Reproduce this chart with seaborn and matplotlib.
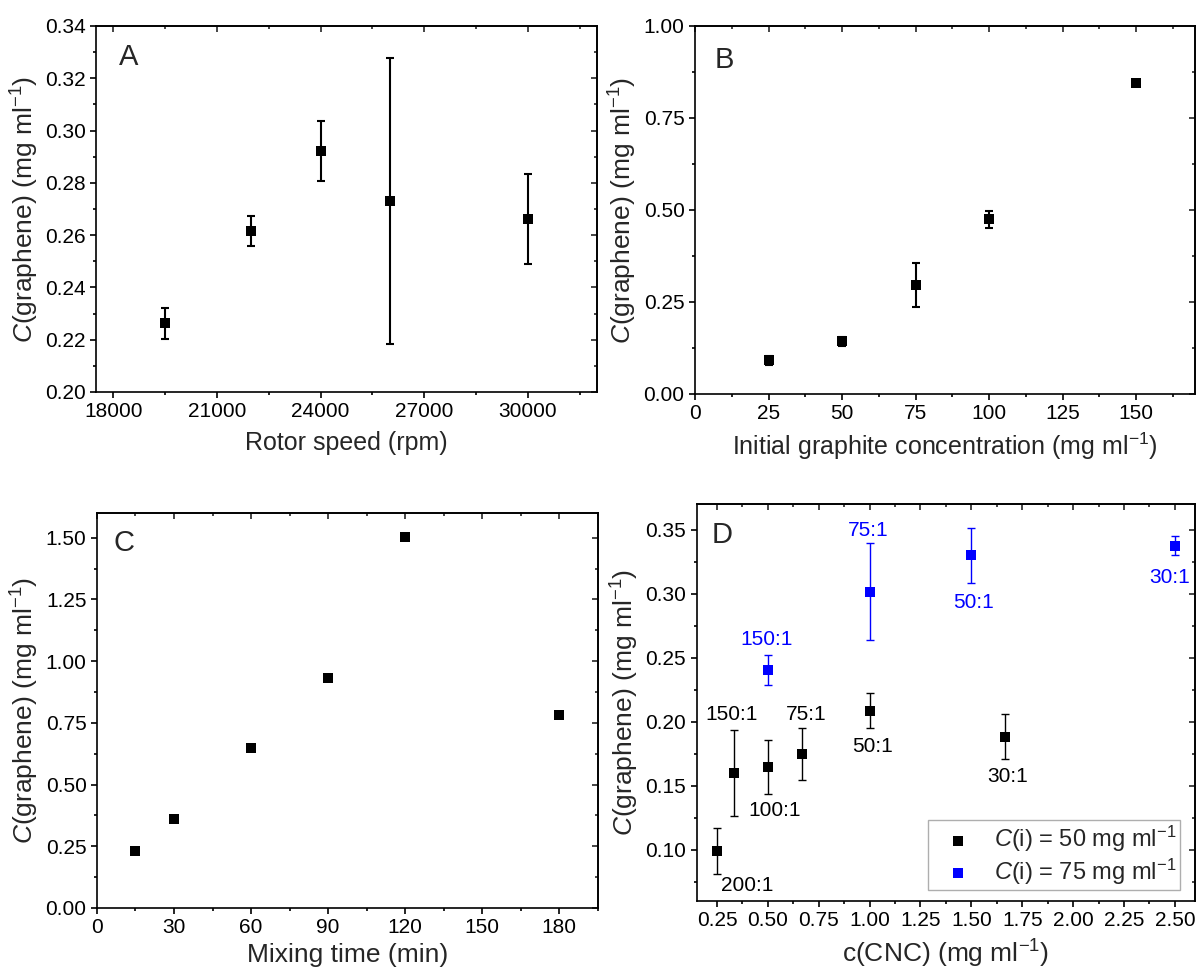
import matplotlib
matplotlib.use("Agg")
import matplotlib.pyplot as plt
from matplotlib.ticker import MultipleLocator, FormatStrFormatter
import seaborn as sns
import pandas as pd

# values
rotor_speed = [19500, 22000, 24000, 26000, 30000]
conc_rotor = [0.2263, 0.2616, 0.2921, 0.2731, 0.2662]
err_rotor = [0.0060, 0.0059, 0.0114, 0.0547, 0.0173]

graphite_init = [25, 50, 75, 100, 150]
conc_graphite = [0.0913, 0.1429, 0.2957, 0.4747, 0.8445]
err_graphite = [0.013, 0.013, 0.0605, 0.023, 0.006]

mix_time = [15, 30, 60, 90, 120, 180]
conc_time = [0.2324, 0.3608, 0.6486, 0.9324, 1.5014, 0.7824]

cnc_50 = [0.25, 0.333, 0.5, 0.667, 1.0, 1.667]
conc_50 = [0.0992, 0.1599, 0.1646, 0.1750, 0.2086, 0.1883]
err_50 = [0.0178, 0.0339, 0.0210, 0.0203, 0.0137, 0.0174]
ratio_50 = ["200:1", "150:1", "100:1", "75:1", "50:1", "30:1"]

cnc_75 = [0.5, 1.0, 1.5, 2.5]
conc_75 = [0.2404, 0.3016, 0.3299, 0.3375]
err_75 = [0.0118, 0.0382, 0.0215, 0.0072]
ratio_75 = ["150:1", "75:1", "50:1", "30:1"]

# label offsets (points) from each point
off_50 = [(22, -25), (-1.5, 42), (5, -31), (3, 28.5), (2, -26), (1.5, -29)]
off_75 = [(-0.7, 22), (-1.2, 44), (1.3, -34), (-4, -23)]

sns.set_style("ticks")
plt.rcParams['font.family'] = ['Liberation Sans', 'DejaVu Sans']
plt.rcParams['mathtext.fontset'] = 'custom'
plt.rcParams['mathtext.rm'] = 'Liberation Sans'
plt.rcParams['mathtext.it'] = 'Liberation Sans:italic'
plt.rcParams['axes.linewidth'] = 1.2
plt.rcParams['axes.edgecolor'] = 'black'

TICK_FS = 15
LABEL_FS = 18
YLABEL = r"$\mathit{C}$(graphene) (mg ml$^{-1}$)"


def style_axes(ax, xlim, ylim, xmaj, xmin, ymaj, ymin, xfmt, yfmt):
    ax.set_xlim(*xlim)
    ax.set_ylim(*ylim)
    ax.xaxis.set_major_locator(MultipleLocator(xmaj))
    ax.xaxis.set_minor_locator(MultipleLocator(xmin))
    ax.yaxis.set_major_locator(MultipleLocator(ymaj))
    ax.yaxis.set_minor_locator(MultipleLocator(ymin))
    ax.xaxis.set_major_formatter(FormatStrFormatter(xfmt))
    ax.yaxis.set_major_formatter(FormatStrFormatter(yfmt))
    ax.tick_params(which='both', direction='out', width=1.2, labelsize=TICK_FS,
                   colors='black', top=False, right=False)
    ax.tick_params(which='major', length=4.5, pad=3)
    ax.tick_params(which='minor', length=2.5)
    # mirrored ticks pointing inward
    top = ax.secondary_xaxis('top')
    top.xaxis.set_major_locator(MultipleLocator(xmaj))
    top.xaxis.set_minor_locator(MultipleLocator(xmin))
    top.tick_params(which='both', direction='in', width=1.2, labeltop=False)
    top.tick_params(which='major', length=4.5)
    top.tick_params(which='minor', length=2.5)
    right = ax.secondary_yaxis('right')
    right.yaxis.set_major_locator(MultipleLocator(ymaj))
    right.yaxis.set_minor_locator(MultipleLocator(ymin))
    right.tick_params(which='both', direction='in', width=1.2, labelright=False)
    right.tick_params(which='major', length=4.5)
    right.tick_params(which='minor', length=2.5)
    for s in ax.spines.values():
        s.set_visible(True)
        s.set_linewidth(1.2)
    ax.set_ylabel(YLABEL, fontsize=LABEL_FS + 1, labelpad=3)


def points(ax, x, y, err, color='black', lw=1.5, label=None):
    if err is not None:
        ax.errorbar(x, y, yerr=err, fmt='none', ecolor=color, elinewidth=lw,
                    capsize=3, capthick=lw, zorder=2)
    sns.scatterplot(x=x, y=y, ax=ax, marker='s', s=42, color=color,
                    linewidth=0, zorder=3, label=label, legend=False)


fig = plt.figure(figsize=(11.97, 9.69), dpi=100)
axA = fig.add_axes([0.0802, 0.5955, 0.4185, 0.3777])
axB = fig.add_axes([0.5806, 0.5934, 0.4177, 0.3798])
axC = fig.add_axes([0.0810, 0.0630, 0.4185, 0.4076])
axD = fig.add_axes([0.5820, 0.0702, 0.4165, 0.4097])

# A
points(axA, rotor_speed, conc_rotor, err_rotor)
style_axes(axA, (17500, 32000), (0.20, 0.34), 3000, 1500, 0.02, 0.01, '%d', '%.2f')
axA.set_xlabel("Rotor speed (rpm)", fontsize=LABEL_FS, labelpad=7)
axA.text(0.046, 0.893, "A", transform=axA.transAxes, fontsize=21, va='baseline')

# B
points(axB, graphite_init, conc_graphite, err_graphite)
style_axes(axB, (0, 170), (0, 1.0), 25, 12.5, 0.25, 0.125, '%d', '%.2f')
axB.set_xlabel("Initial graphite concentration (mg ml$^{-1}$)", fontsize=LABEL_FS, labelpad=5)
axB.text(0.039, 0.886, "B", transform=axB.transAxes, fontsize=21, va='baseline')

# C
points(axC, mix_time, conc_time, None)
style_axes(axC, (0, 195), (0, 1.6), 30, 15, 0.25, 0.125, '%d', '%.2f')
axC.set_xlabel("Mixing time (min)", fontsize=LABEL_FS + 1, labelpad=4)
axC.text(0.034, 0.904, "C", transform=axC.transAxes, fontsize=21, va='baseline')

# D
points(axD, cnc_50, conc_50, err_50, color='black', lw=1.0,
       label=r"$\mathit{C}$(i) = 50 mg ml$^{-1}$")
points(axD, cnc_75, conc_75, err_75, color='blue', lw=1.0,
       label=r"$\mathit{C}$(i) = 75 mg ml$^{-1}$")
style_axes(axD, (0.15, 2.6), (0.06, 0.37), 0.25, 0.125, 0.05, 0.025, '%.2f', '%.2f')
axD.set_xlabel("c(CNC) (mg ml$^{-1}$)", fontsize=LABEL_FS + 1, labelpad=5)
axD.text(0.030, 0.902, "D", transform=axD.transAxes, fontsize=21, va='baseline')

for x, y, t, o in zip(cnc_50, conc_50, ratio_50, off_50):
    axD.annotate(t, (x, y), xytext=o, textcoords='offset points',
                 ha='center', va='center', fontsize=15, color='black')
for x, y, t, o in zip(cnc_75, conc_75, ratio_75, off_75):
    axD.annotate(t, (x, y), xytext=o, textcoords='offset points',
                 ha='center', va='center', fontsize=15, color='blue')

leg = axD.legend(loc='lower right', bbox_to_anchor=(0.97, 0.027), borderaxespad=0,
                 fontsize=17, frameon=True, fancybox=False, handlelength=2.2,
                 handletextpad=0.45, borderpad=0.15, labelspacing=0.1,
                 markerscale=1.0)
leg.get_frame().set_edgecolor('#9a9a9a')
leg.get_frame().set_linewidth(1.0)

fig.savefig("out.png", dpi=100)
